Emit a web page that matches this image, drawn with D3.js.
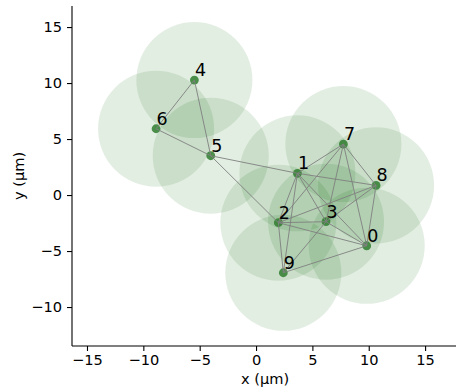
<!DOCTYPE html>
<html>
<head>
<meta charset="utf-8">
<script src="https://cdn.jsdelivr.net/npm/d3@7"></script>
<style>
  body { margin: 0; background: #fff; }
  svg { display: block; font-family: "DejaVu Sans", sans-serif; }
</style>
</head>
<body>
<svg id="chart" width="456" height="391"></svg>
<script>
// atom ids and positions (µm)
var atomIds = ["0", "1", "2", "3", "4", "5", "6", "7", "8", "9"];
var atomX = [9.82, 3.67, 1.98, 6.21, -5.47, -4.02, -8.87, 7.75, 10.65, 2.42];
var atomY = [-4.53, 1.94, -2.47, -2.38, 10.27, 3.51, 5.92, 4.55, 0.86, -6.94];
// half blockade radius, drawn as the shaded discs
var halfRadius = 5.15;
// connected pairs
var links = [[4,6],[4,5],[6,5],[5,1],[5,2],[1,7],[1,8],[1,2],[1,3],[1,9],[1,0],
  [7,8],[7,2],[7,3],[7,0],[8,2],[8,3],[8,0],[2,3],[2,0],[2,9],[3,0],[3,9],[9,0]];
var xTicks = [-15, -10, -5, 0, 5, 10, 15];
var yTicks = [-10, -5, 0, 5, 10, 15];

var plotL = 72, plotR = 458, plotT = 6, plotB = 346;

var svg = d3.select("#chart");
var x = d3.scaleLinear().domain([-16.33, 17.92]).range([plotL, plotR]);
var y = d3.scaleLinear().domain([-13.48, 16.88]).range([plotB, plotT]);

var atoms = atomIds.map(function(id, i) { return {id: id, x: atomX[i], y: atomY[i]}; });

var fmt = function(d) { return d < 0 ? "\u2212" + Math.abs(d) : "" + d; };

// shaded discs
svg.append("g").selectAll("circle")
  .data(atoms).enter().append("circle")
  .attr("cx", function(d) { return x(d.x); })
  .attr("cy", function(d) { return y(d.y); })
  .attr("r", x(halfRadius) - x(0))
  .attr("fill", "#006400")
  .attr("fill-opacity", 0.11);

// atoms
svg.append("g").selectAll("circle")
  .data(atoms).enter().append("circle")
  .attr("cx", function(d) { return x(d.x); })
  .attr("cy", function(d) { return y(d.y); })
  .attr("r", 4.4)
  .attr("fill", "#2f7d2f")
  .attr("fill-opacity", 0.85);

// edges
svg.append("g").selectAll("line")
  .data(links).enter().append("line")
  .attr("x1", function(d) { return x(atoms[d[0]].x); })
  .attr("y1", function(d) { return y(atoms[d[0]].y); })
  .attr("x2", function(d) { return x(atoms[d[1]].x); })
  .attr("y2", function(d) { return y(atoms[d[1]].y); })
  .attr("stroke", "#808080")
  .attr("stroke-opacity", 0.9)
  .attr("stroke-width", 1);

// labels
svg.append("g").selectAll("text")
  .data(atoms).enter().append("text")
  .attr("x", function(d) { return x(d.x) + 0.5; })
  .attr("y", function(d) { return y(d.y) - 4; })
  .attr("font-size", 17.5)
  .attr("fill", "#000")
  .text(function(d) { return d.id; });

// axes
var xAxis = svg.append("g")
  .attr("transform", "translate(0," + plotB + ")")
  .call(d3.axisBottom(x).tickValues(xTicks).tickFormat(fmt).tickSize(5).tickPadding(4));
var yAxis = svg.append("g")
  .attr("transform", "translate(" + plotL + ",0)")
  .call(d3.axisLeft(y).tickValues(yTicks).tickFormat(fmt).tickSize(5).tickPadding(5));

[xAxis, yAxis].forEach(function(a) {
  a.select(".domain").attr("stroke", "#000").attr("stroke-width", 1.1);
  a.selectAll(".tick line").attr("stroke", "#000").attr("stroke-width", 1.1);
  a.selectAll(".tick text").attr("font-size", 14.6).attr("fill", "#000")
    .attr("font-family", "DejaVu Sans");
});
xAxis.select(".domain").attr("d", "M" + plotL + ",0H" + plotR);
yAxis.select(".domain").attr("d", "M0," + plotB + "V" + plotT);

svg.append("text")
  .attr("x", (plotL + plotR) / 2).attr("y", 384)
  .attr("text-anchor", "middle").attr("font-size", 14.6)
  .text("x (µm)");
svg.append("text")
  .attr("transform", "translate(24," + (plotT + plotB) / 2 + ") rotate(-90)")
  .attr("text-anchor", "middle").attr("font-size", 14.6)
  .text("y (µm)");
</script>
</body>
</html>
